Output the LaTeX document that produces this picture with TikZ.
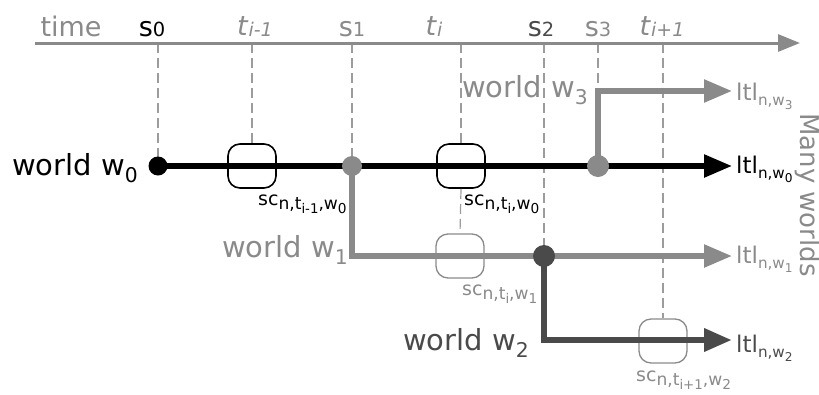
\documentclass[tikz,border=0pt]{standalone}
\usepackage{fontspec}
\setmainfont{DejaVu Sans}
\usetikzlibrary{arrows.meta}
\definecolor{midgray}{HTML}{8A8A8A}
\definecolor{dgray}{HTML}{4A4A4A}
\definecolor{guidegray}{HTML}{9C9C9C}
\newcommand{\fs}[1]{\fontsize{#1}{#1}\selectfont}
\newcommand{\dn}[2][0.7]{\raisebox{-0.45ex}{\scalebox{#1}{#2}}}
\newcommand{\tdn}[1]{\raisebox{-0.12ex}{\scalebox{0.7}{#1}}}
\begin{document}
\begin{tikzpicture}[x=1pt, y=-1pt,
  every node/.style={inner sep=0pt},
  guide/.style={guidegray, line width=1.2pt, dash pattern=on 10pt off 5pt},
  world/.style={line width=5.5pt, -{Triangle[length=28pt,width=22pt]}},
  scbox/.style={draw, rounded corners=12pt, minimum width=48pt, minimum height=44pt, line width=1.6pt},
  dot/.style={circle, fill, minimum size=20pt},
  tick/.style={anchor=base, font=\fs{27}},
  wlabel/.style={anchor=base east, font=\fs{29}},
  ltl/.style={anchor=base west, font=\fs{23}},
  sclabel/.style={anchor=base west, font=\fs{19}}]
  \useasboundingbox (0,0) rectangle (819,394);

  % time axis and instants
  \coordinate (axl) at (35,43);
  \coordinate (axr) at (800,43);
  \node[tick, midgray] (time) at (71,36) {time};
  \node[tick] (s0) at (152,36) {s\scalebox{0.72}{0}};
  \node[tick, midgray] (ti1) at (255,35) {\textit{t}\tdn{\textit{i-1}}};
  \node[tick, midgray] (s1) at (352,36) {s\scalebox{0.72}{1}};
  \node[tick, midgray] (ti) at (434,35) {\textit{t}\tdn{\textit{i}}};
  \node[tick, dgray] (s2) at (541,36) {s\scalebox{0.72}{2}};
  \node[tick, midgray] (s3) at (598,36) {s\scalebox{0.72}{3}};
  \node[tick, midgray] (tip1) at (662,35) {\textit{t}\tdn{\textit{i+1}}};

  % branching points and line ends
  \coordinate (p0) at (158,166);
  \coordinate (p1) at (352,166);
  \coordinate (p2) at (544,256);
  \coordinate (p3) at (598,166);
  \coordinate (e0) at (732,166);
  \coordinate (e1) at (732,256);
  \coordinate (e2) at (732,340);
  \coordinate (e3) at (732,91);
  \coordinate (c3) at (p3 |- e3);

  % state boxes
  \node[scbox] (b1) at (252,166) {};
  \node[scbox] (b2) at (461,166) {};
  \node[scbox, midgray, line width=1.3pt] (b3) at (460,256) {};
  \node[scbox, midgray, line width=1.3pt] (b4) at (663,341) {};

  % dashed guides
  \draw[guide] (p0 |- axl) -- (p0);
  \draw[guide] (b1 |- axl) -- (b1.north);
  \draw[guide] (p1 |- axl) -- (p1);
  \draw[guide] (b2 |- axl) -- (b2.north);
  \draw[guide] (b2.south) -- (b3.north);
  \draw[guide] (p2 |- axl) -- (p2);
  \draw[guide] (p3 |- axl) -- (c3);
  \draw[guide] (b4 |- axl) -- (b4.north);

  \draw[midgray, line width=3pt, -{Triangle[length=22pt,width=17pt]}] (axl) -- (axr);

  % worlds
  \draw[world] (p0) -- (e0);
  \draw[world, midgray] (p1) -- (p1 |- e1) -- (e1);
  \draw[world, dgray, line width=6.5pt] (p2) -- (p2 |- e2) -- (e2);
  \draw[world, midgray] (p3) -- (c3) -- (e3);

  \node[dot, black, minimum size=19pt] (d0) at (p0) {};
  \node[dot, midgray] (d1) at (p1) {};
  \node[dot, dgray, minimum size=22pt] (d2) at (p2) {};
  \node[dot, midgray, minimum size=22pt] (d3) at (p3) {};

  \node[wlabel] (w0) at (138,175) {world w\dn{0}};
  \node[wlabel, midgray] (w1) at (348,257) {world w\dn{1}};
  \node[wlabel, dgray] (w2) at (529,350) {world w\dn{2}};
  \node[wlabel, midgray] (w3) at (588,97) {world w\dn{3}};

  \node[ltl] (l3) at (736,100) {\color{midgray}ltl\dn[0.66]{n,w\dn[0.8]{3}}};
  \node[ltl] (l0) at (736,173) {ltl\dn[0.66]{n,w\dn[0.8]{0}}};
  \node[ltl] (l1) at (736,263) {\color{midgray}ltl\dn[0.66]{n,w\dn[0.8]{1}}};
  \node[ltl] (l2) at (736,352) {\color{dgray}ltl\dn[0.66]{n,w\dn[0.8]{2}}};

  \node[sclabel] (sc1) at (258,205) {sc\dn[0.9]{n,t\dn[0.78]{i-1},w\dn[0.8]{0}}};
  \node[sclabel] (sc2) at (464,205) {sc\dn[0.9]{n,t\dn[0.78]{i},w\dn[0.8]{0}}};
  \node[sclabel, midgray] (sc3) at (462,295) {sc\dn[0.9]{n,t\dn[0.78]{i},w\dn[0.8]{1}}};
  \node[sclabel, midgray] (sc4) at (636,381) {sc\dn[0.9]{n,t\dn[0.78]{i+1},w\dn[0.8]{2}}};

  \node[rotate=-90, anchor=base, midgray, font=\fs{26}] (many) at (800,195) {Many worlds};
\end{tikzpicture}
\end{document}
